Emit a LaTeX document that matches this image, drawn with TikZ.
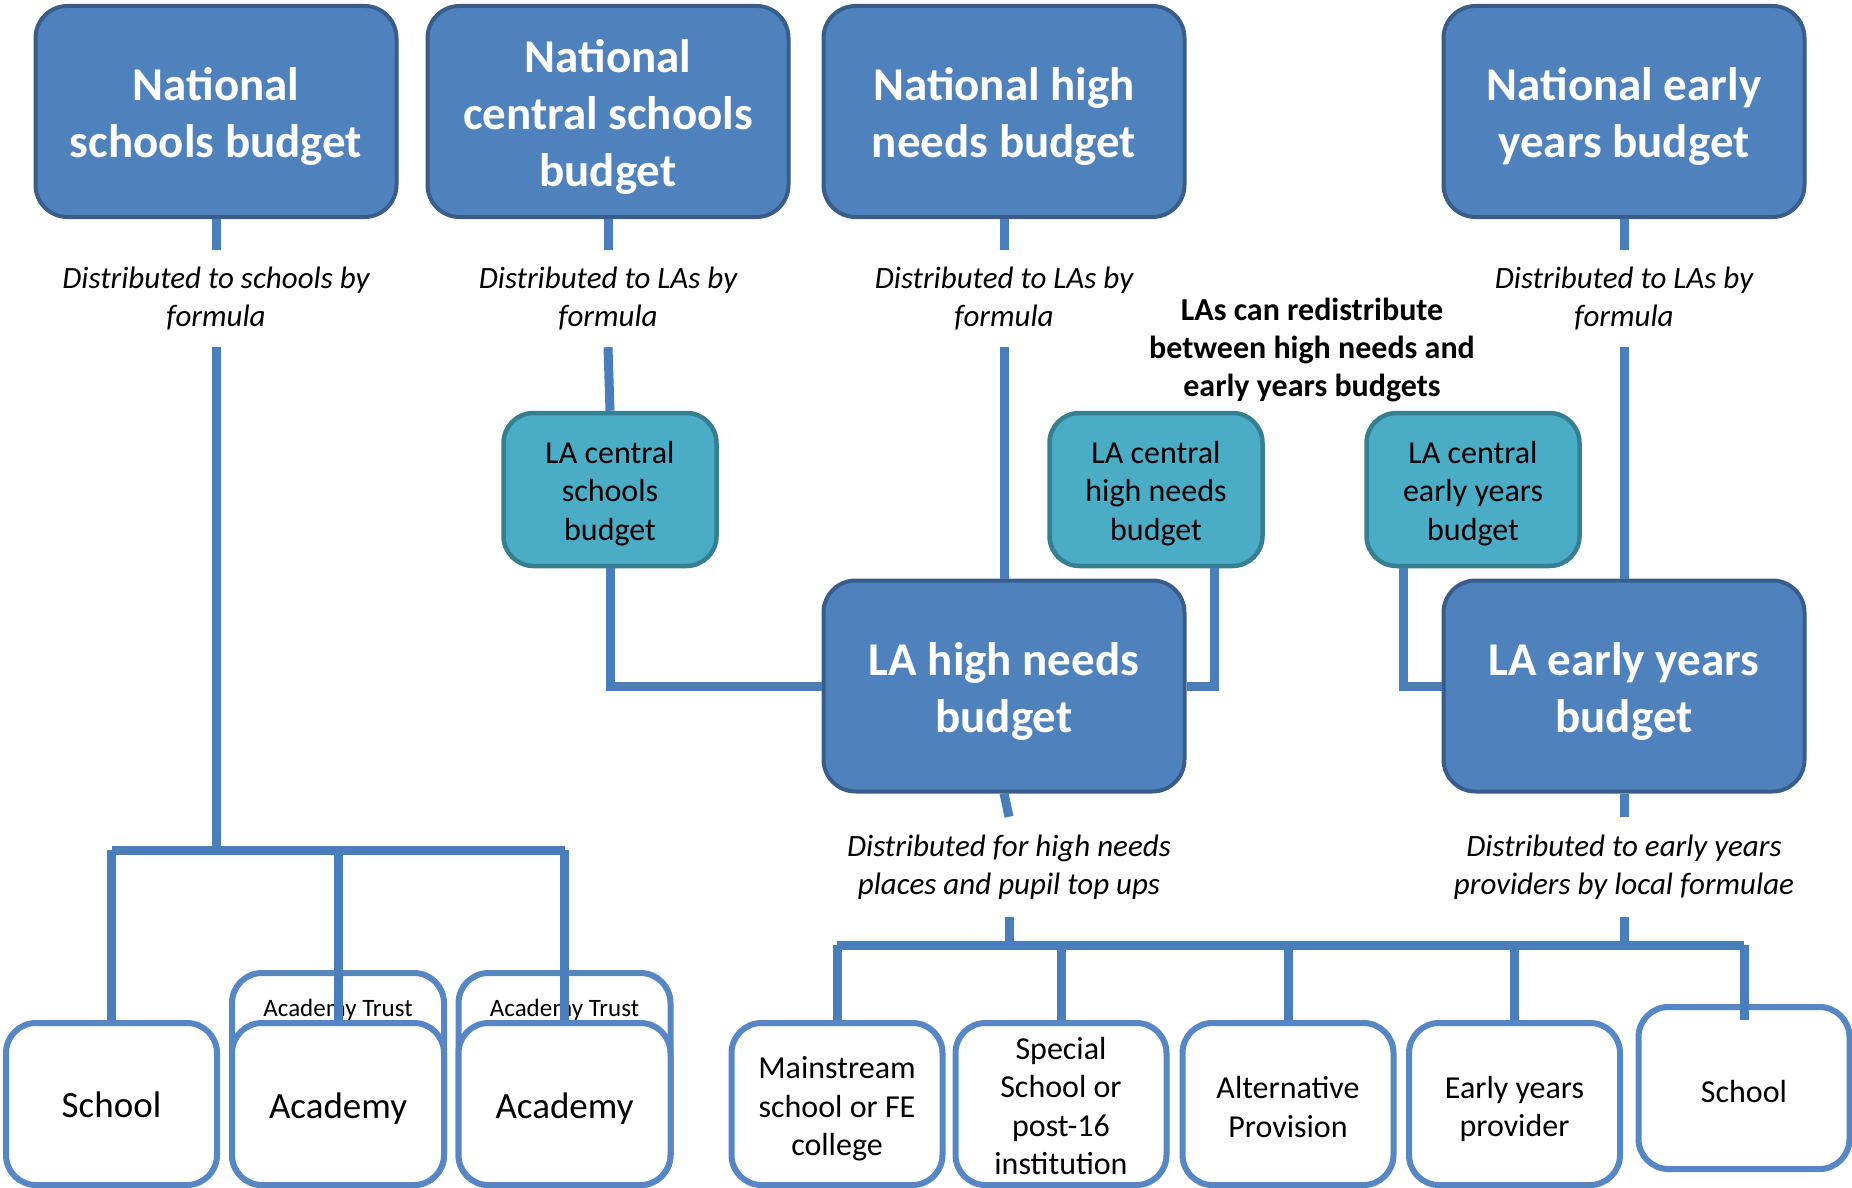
\documentclass[tikz,border=0pt]{standalone}
\usepackage{fontspec}
\setmainfont{Carlito}
\definecolor{bigfill}{HTML}{4F81BD}
\definecolor{bigline}{HTML}{385D8A}
\definecolor{tealfill}{HTML}{4BACC6}
\definecolor{tealline}{HTML}{357F91}
\definecolor{connc}{HTML}{4A7EBB}
\definecolor{wline}{HTML}{5686C3}
\begin{document}
\begin{tikzpicture}[x=1pt,y=-1pt,
  bigbox/.style={draw=bigline,line width=4,fill=bigfill,rounded corners=32,
    minimum width=361,minimum height=211,inner sep=0},
  bigtxt/.style={align=center,inner sep=0,text=white,yshift=-5,
    font=\fontsize{47}{57}\selectfont\bfseries},
  tealbox/.style={draw=tealline,line width=4.5,fill=tealfill,rounded corners=30,
    minimum width=213,minimum height=153,inner sep=0},
  tealtxt/.style={align=center,inner sep=0,text=black,yshift=-4,
    font=\fontsize{32}{38.5}\selectfont},
  whitebox/.style={draw=wline,line width=6,fill=white,rounded corners=30,
    minimum width=211,minimum height=162,inner sep=0},
  whitetxt/.style={align=center,inner sep=0,text=black,yshift=-5,
    font=\fontsize{32}{38.5}\selectfont},
  trustbox/.style={draw=wline,line width=6,fill=white,rounded corners=30,
    minimum width=212,minimum height=212,inner sep=0},
  lab/.style={align=center,inner sep=0,minimum height=97,
    font=\fontsize{31}{38}\selectfont\itshape},
  conn/.style={draw=connc,line width=9}]
\useasboundingbox (0,0) rectangle (1852,1188);

% top national boxes
\node[bigbox] (nsb) at (216,111.5) {};
\node[bigbox] (ncs) at (608,111.5) {};
\node[bigbox] (nhn) at (1004,111.5) {};
\node[bigbox] (ney) at (1624,111.5) {};
\node[bigtxt] (nsbt) at (nsb.center) {National\\schools budget};
\node[bigtxt] (ncst) at (ncs.center) {National\\central schools\\budget};
\node[bigtxt] (nhnt) at (nhn.center) {National high\\needs budget};
\node[bigtxt] (neyt) at (ney.center) {National early\\years budget};

% labels under top boxes
\node[lab] (l1) at (216,298.5) {Distributed to schools by\\formula};
\node[lab] (l2) at (608,298.5) {Distributed to LAs by\\formula};
\node[lab] (l3) at (1004,298.5) {Distributed to LAs by\\formula};
\node[lab] (l4) at (1624,298.5) {Distributed to LAs by\\formula};

% redistribution note
\node[align=center,inner sep=0,font=\fontsize{32}{38}\selectfont\bfseries] (redis) at (1312,349.5)
  {LAs can redistribute\\between high needs and\\early years budgets};

% LA central teal boxes
\node[tealbox] (lacs) at (610,489.5) {};
\node[tealbox] (lachn) at (1156,489.5) {};
\node[tealbox] (laeyc) at (1473,489.5) {};
\node[tealtxt] (lacst) at (lacs.center) {LA central\\schools\\budget};
\node[tealtxt] (lachnt) at (lachn.center) {LA central\\high needs\\budget};
\node[tealtxt] (laeyct) at (laeyc.center) {LA central\\early years\\budget};

% LA budgets
\node[bigbox] (lahn) at (1004,686) {};
\node[bigbox] (laey) at (1624,686) {};
\node[bigtxt] (lahnt) at (lahn.center) {LA high needs\\budget};
\node[bigtxt] (laeyt) at (laey.center) {LA early years\\budget};

% lower labels
\node[lab,minimum height=100] (l5) at (1009,867) {Distributed for high needs\\places and pupil top ups};
\node[lab,minimum height=100] (l6) at (1624,867) {Distributed to early years\\providers by local formulae};

% bottom left boxes
\node[whitebox] (sch1) at (111.5,1104) {};
\node[trustbox] (tr1) at (338,1079) {};
\node[trustbox] (tr2) at (564.5,1079) {};
\node[inner sep=0,font=\fontsize{25}{30}\selectfont] (trl1) at (338,1010) {Academy Trust};
\node[inner sep=0,font=\fontsize{25}{30}\selectfont] (trl2) at (564.5,1010) {Academy Trust};
\node[whitebox,minimum width=212] (ac1) at (338,1104) {};
\node[whitebox,minimum width=212] (ac2) at (564.5,1104) {};
\node[whitetxt,font=\fontsize{37}{44}\selectfont,yshift=4] (sch1t) at (sch1.center) {School};
\node[whitetxt,font=\fontsize{37}{44}\selectfont] (ac1t) at (ac1.center) {Academy};
\node[whitetxt,font=\fontsize{37}{44}\selectfont] (ac2t) at (ac2.center) {Academy};

% bottom right boxes
\node[whitebox] (ms) at (837,1104) {};
\node[whitebox] (sp) at (1061,1104) {};
\node[whitebox] (ap) at (1288,1104) {};
\node[whitebox] (ep) at (1514.5,1104) {};
\node[whitebox] (sch2) at (1744,1088) {};
\node[whitetxt] (mst) at (ms.center) {Mainstream\\school or FE\\college};
\node[whitetxt,yshift=3] (spt) at (sp.center) {Special\\School or\\post-16\\institution};
\node[whitetxt,yshift=2] (apt) at (ap.center) {Alternative\\Provision};
\node[whitetxt] (ept) at (ep.center) {Early years\\provider};
\node[whitetxt,yshift=2] (sch2t) at (sch2.center) {School};

% bar coordinates
\coordinate (lbar) at (0,850);
\coordinate (rbar) at (0,945);

% connectors: national -> labels -> LA
\draw[conn] (nsb.south) -- (l1.north);
\draw[conn] (ncs.south) -- (l2.north);
\draw[conn] (nhn.south) -- (l3.north);
\draw[conn] (ney.south) -- (l4.north);
\draw[conn] (l2.south) -- (lacs.north);
\draw[conn] (l3.south) -- (lahn.north);
\draw[conn] (l4.south) -- (laey.north);

% teal -> LA budgets
\draw[conn] (lacs.south) |- (lahn.west);
\draw[conn] ([xshift=58]lachn.south) |- (lahn.east);
\draw[conn] ([xshift=-70]laeyc.south) |- (laey.west);

% left tree
\draw[conn] (l1.south) -- (l1.south |- lbar);
\draw[conn] (sch1.north |- lbar) -- (ac2.north |- lbar);
\draw[conn] (sch1.north |- lbar) -- (sch1.north);
\draw[conn] (ac1.north |- lbar) -- (ac1.north);
\draw[conn] (ac2.north |- lbar) -- (ac2.north);

% right tree
\draw[conn] (lahn.south) -- (l5.north);
\draw[conn] (laey.south) -- (l6.north);
\draw[conn] (l5.south) -- (l5.south |- rbar);
\draw[conn] (l6.south) -- (l6.south |- rbar);
\draw[conn] (ms.north |- rbar) -- (sch2.north |- rbar);
\draw[conn] (ms.north |- rbar) -- (ms.north);
\draw[conn] (sp.north |- rbar) -- (sp.north);
\draw[conn] (ap.north |- rbar) -- (ap.north);
\draw[conn] (ep.north |- rbar) -- (ep.north);
\draw[conn] (sch2.north |- rbar) -- ([yshift=-16]sch2.north);
\end{tikzpicture}
\end{document}
